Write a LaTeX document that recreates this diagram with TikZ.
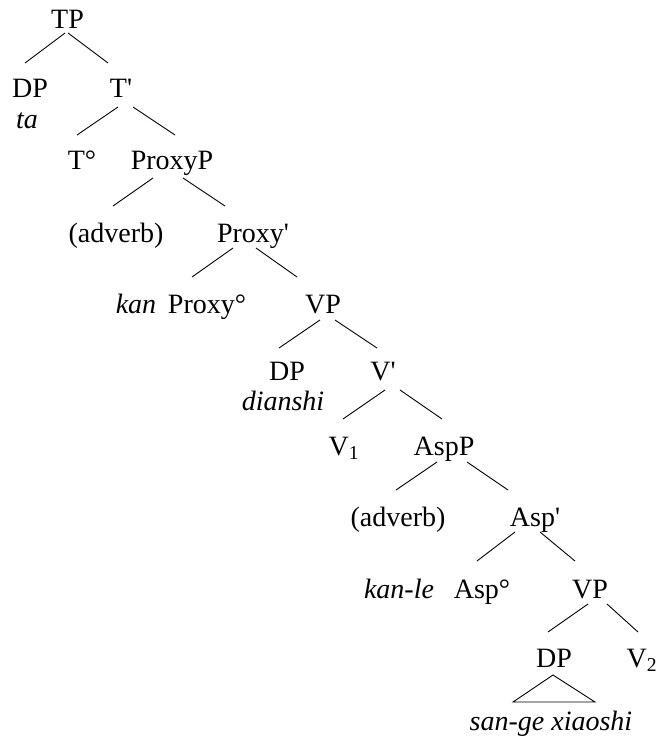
\documentclass[tikz,border=0pt]{standalone}
\usepackage{fontspec}
\newfontfamily\tnr{Liberation Serif}
\begin{document}
\begin{tikzpicture}[x=1pt,y=-1pt,
  lab/.style={font=\tnr\fontsize{28}{30}\selectfont, inner sep=0pt, anchor=base},
  word/.style={lab, font=\tnr\itshape\fontsize{28}{30}\selectfont},
  branch/.style={line width=0.9pt}]
\useasboundingbox (0,0) rectangle (657,744);
% nodes
\node[lab] (TP) at (67.5,28) {TP};
\node[lab] (DPa) at (30,97) {DP};
\node[word] (ta) at (27,128) {ta};
\node[lab] (Tb) at (121,97) {T'};
\node[lab] (T0) at (82,169) {T°};
\node[lab] (ProxyP) at (172,169) {ProxyP};
\node[lab] (adva) at (116,242) {(adverb)};
\node[lab] (Proxyb) at (253,242) {Proxy'};
\node[word] (kan) at (136,313) {kan};
\node[lab] (Proxy0) at (207,313) {Proxy°};
\node[lab] (VPa) at (323,313) {VP};
\node[lab] (DPb) at (287,380) {DP};
\node[word] (dianshi) at (283,410) {dianshi};
\node[lab] (Vb) at (383,380) {V'};
\node[lab] (Va) at (344,455) {V\textsubscript{1}};
\node[lab] (AspP) at (444,455) {AspP};
\node[lab] (advb) at (398,526) {(adverb)};
\node[lab] (Aspb) at (535,526) {Asp'};
\node[word] (kanle) at (399,598) {kan-le};
\node[lab] (Asp0) at (482,598) {Asp°};
\node[lab] (VPb) at (590,598) {VP};
\node[lab] (DPc) at (554,667) {DP};
\node[lab] (Vc) at (642,667) {V\textsubscript{2}};
\node[word] (sange) at (551,730) {san-ge xiaoshi};
% branches
\draw[branch] ([shift={(-2.5,5)}]TP.base) -- ([shift={(-5,-34)}]DPa.base);
\draw[branch] ([shift={(0.5,5)}]TP.base) -- ([shift={(-13,-34)}]Tb.base);
\draw[branch] ([shift={(-3,10)}]Tb.base) -- ([shift={(-5,-34)}]T0.base);
\draw[branch] ([shift={(12,10)}]Tb.base) -- ([shift={(3,-34)}]ProxyP.base);
\draw[branch] ([shift={(-19,9)}]ProxyP.base) -- ([shift={(-3,-36)}]adva.base);
\draw[branch] ([shift={(11,9)}]ProxyP.base) -- ([shift={(-28,-36)}]Proxyb.base);
\draw[branch] ([shift={(-20,6)}]Proxyb.base) -- ([shift={(-15,-36)}]Proxy0.base);
\draw[branch] ([shift={(3,6)}]Proxyb.base) -- ([shift={(-26,-36)}]VPa.base);
\draw[branch] ([shift={(-3,7)}]VPa.base) -- ([shift={(-8,-32)}]DPb.base);
\draw[branch] ([shift={(12,7)}]VPa.base) -- ([shift={(-6,-32)}]Vb.base);
\draw[branch] ([shift={(2,10)}]Vb.base) -- ([shift={(-1,-36)}]Va.base);
\draw[branch] ([shift={(17,10)}]Vb.base) -- ([shift={(-2,-36)}]AspP.base);
\draw[branch] ([shift={(-7,7)}]AspP.base) -- ([shift={(-2,-36)}]advb.base);
\draw[branch] ([shift={(23,7)}]AspP.base) -- ([shift={(-27,-36)}]Aspb.base);
\draw[branch] ([shift={(-20,6)}]Aspb.base) -- ([shift={(-5,-37)}]Asp0.base);
\draw[branch] ([shift={(5,6)}]Aspb.base) -- ([shift={(-15,-37)}]VPb.base);
\draw[branch] ([shift={(-2,6)}]VPb.base) -- ([shift={(-6,-35)}]DPc.base);
\draw[branch] ([shift={(17,6)}]VPb.base) -- ([shift={(-4,-35)}]Vc.base);
\draw[branch, line join=miter] ([shift={(-1,8)}]DPc.base) -- ([shift={(-41,35)}]DPc.base) -- ([shift={(41,35)}]DPc.base) -- cycle;
\end{tikzpicture}
\end{document}
